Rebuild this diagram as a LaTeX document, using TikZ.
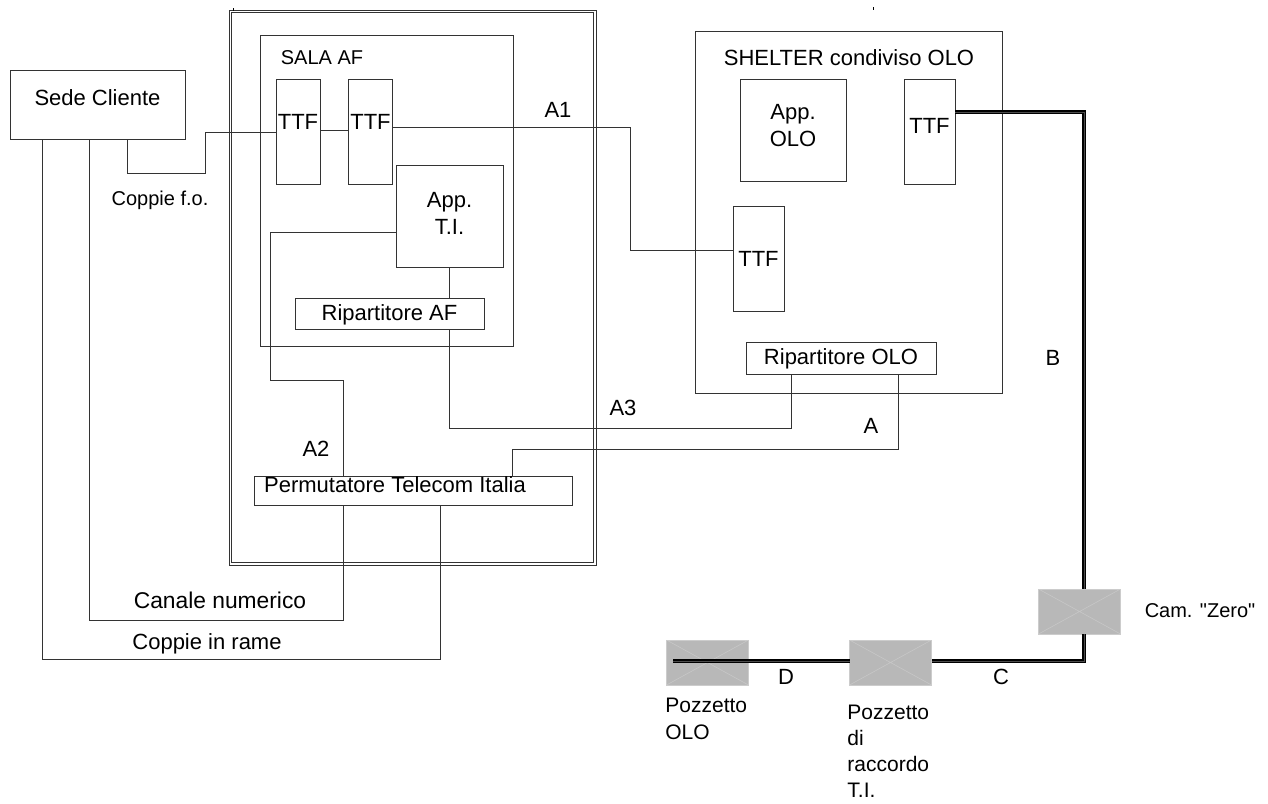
\documentclass[tikz,border=0pt]{standalone}
\usepackage{fontspec}
\setmainfont{Liberation Sans}[Ligatures=TeXOff]
\usetikzlibrary{positioning}
\tikzset{
  wire/.style={line width=0.5pt, color=black!80},
  box/.style={draw=black!80, line width=0.5pt, inner sep=0pt, outer sep=0pt},
  lab/.style={inner sep=0pt, align=left},
  cable/.style={line width=0.65pt, color=black, double=black!70, double distance=0.3pt},
  well/.style={fill=black!28, draw=black!20, line width=0.5pt, inner sep=0pt, outer sep=0pt,
    minimum width=41pt, minimum height=22.5pt,
    path picture={\draw[black!22, line width=0.3pt]
      (path picture bounding box.north west) -- (path picture bounding box.south east)
      (path picture bounding box.south west) -- (path picture bounding box.north east);}}
}
\begin{document}
\begin{tikzpicture}[x=0.5pt, y=-0.5pt, every node/.style={font=\fontsize{11}{13.5}\selectfont}]
\useasboundingbox (0,0) rectangle (1268,803);

% building
\node[box, minimum width=183.5pt, minimum height=277.5pt] (central) at (412.5,287.5) {};
\node[box, minimum width=181pt, minimum height=275pt] (centralin) at (412.5,287.5) {};
\node[box, minimum width=126.5pt, minimum height=155.5pt] (salaaf) at (386.5,190.5) {};
\node[box, minimum width=153.5pt, minimum height=181pt] (shelter) at (848.5,212) {};
\draw[black] (873,7) -- (873,10);
\draw[black] (233,8) -- (233,11);

% boxes
\node[box, minimum width=87.5pt, minimum height=34.5pt, label={[yshift=3.5pt]center:Sede Cliente}] (sede) at (97.5,104.5) {};
\node[box, minimum width=22pt, minimum height=52.5pt, label={[yshift=5pt]center:TTF}] (ttfa) at (298,131.5) {};
\node[box, minimum width=22pt, minimum height=52.5pt, label={[yshift=5pt]center:TTF}] (ttfb) at (370.5,131.5) {};
\node[box, minimum width=53.5pt, minimum height=51pt, label={[yshift=1.5pt,align=center]center:App.\\T.I.}] (appti) at (449.5,216) {};
\node[box, minimum width=94.5pt, minimum height=15.5pt, label={[yshift=-0.8pt]center:Ripartitore AF}] (ripaf) at (389.5,313.5) {};
\node[box, minimum width=159pt, minimum height=14.5pt, label={[xshift=-9pt,yshift=3pt]center:Permutatore Telecom Italia}] (perm) at (413,490.5) {};
\node[box, minimum width=53pt, minimum height=51pt, label={[yshift=2pt,align=center]center:App.\\OLO}] (appolo) at (793,130) {};
\node[box, minimum width=25.5pt, minimum height=52.5pt, label={[yshift=3pt]center:TTF}] (ttfc) at (929.5,131.5) {};
\node[box, minimum width=25.5pt, minimum height=52.5pt, label={center:TTF}] (ttfd) at (758.5,258.5) {};
\node[box, minimum width=95pt, minimum height=16pt, label={[yshift=-0.4pt]center:Ripartitore OLO}] (ripolo) at (841,358) {};

% wells
\node[well] (camzero) at (1079.5,611.5) {};
\node[well] (pozrac) at (890.5,662.5) {};
\node[well] (pozolo) at (707.5,662.5) {};
\coordinate (cableend) at (673,661);

% fibre and copper
\draw[wire] (127,0 |- sede.south) -- (127,173) -- (205,173) -- (205,132) -- (ttfa.west |- 0,132);
\draw[wire] (ttfa.east |- 0,130) -- (ttfb.west |- 0,130);
\draw[wire] (ttfb.east |- 0,127) -- (630,127) -- (630,250) -- (ttfd.west |- 0,250);
\draw[wire] (appti.west |- 0,232) -- (270,232) -- (270,380) -- (343,380) -- (343,0 |- perm.north);
\draw[wire] (449,0 |- appti.south) -- (449,0 |- ripaf.north);
\draw[wire] (449,0 |- ripaf.south) -- (449,428) -- (791,428) -- (791,0 |- ripolo.south);
\draw[wire] (898,0 |- ripolo.south) -- (898,449) -- (512,449) -- (512,0 |- perm.north);
\draw[wire] (343,0 |- perm.south) -- (343,620) -- (89,620) -- (89,0 |- sede.south);
\draw[wire] (440,0 |- perm.south) -- (440,659) -- (42,659) -- (42,0 |- sede.south);

% cables
\draw[cable] (ttfc.east |- 0,112) -- (1084,112) -- (1084,0 |- camzero.north);
\draw[cable] (1084,0 |- camzero.south) -- (1084,661) -- (pozrac.east |- 0,661);
\draw[cable] (pozrac.west |- 0,661) -- (cableend);

% labels
\node[lab, font=\fontsize{10}{12}\selectfont] (salatxt) at (322,58) {SALA AF};
\node[lab] (sheltxt) at (849,58) {SHELTER condiviso OLO};
\node[lab, font=\fontsize{10}{12}\selectfont] (coppfo) at (160,200) {Coppie f.o.};
\node[lab] (laba1) at (558,110) {A1};
\node[lab] (laba2) at (316,449) {A2};
\node[lab] (laba3) at (623,408) {A3};
\node[lab] (laba) at (871,426) {A};
\node[lab] (labb) at (1053,358) {B};
\node[lab] (labc) at (1001,677) {C};
\node[lab] (labd) at (786,677) {D};
\node[lab, font=\fontsize{11.4}{13.5}\selectfont] (canale) at (220,600) {Canale numerico};
\node[lab] (rame) at (207,644) {Coppie in rame};
\node[lab, font=\fontsize{10}{12}\selectfont] (camtxt) at (1200,611) {Cam. "Zero"};
\node[lab, anchor=north west, font=\fontsize{10.5}{13.5}\selectfont] (poztxt) at (665,698) {Pozzetto\\OLO};
\node[lab, anchor=north west, font=\fontsize{10.5}{13}\selectfont] (ractxt) at (847,705) {Pozzetto\\di\\raccordo\\T.I.};
\end{tikzpicture}
\end{document}
